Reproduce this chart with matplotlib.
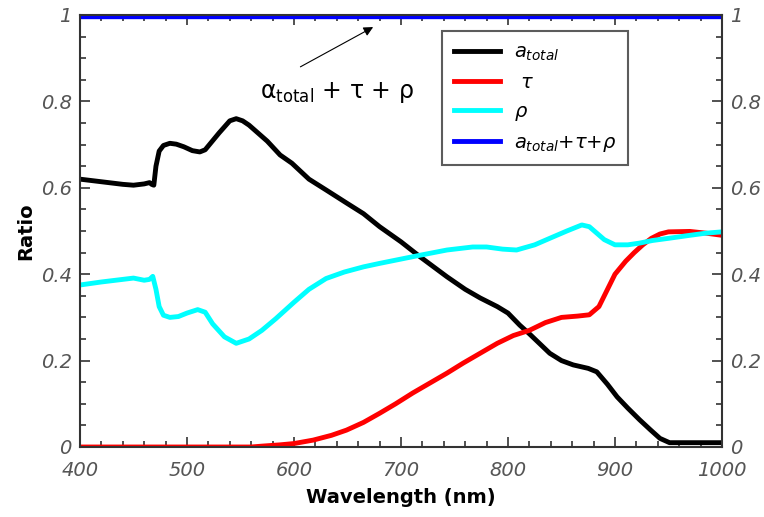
import matplotlib
matplotlib.use("Agg")
import matplotlib.pyplot as plt
from matplotlib.ticker import MultipleLocator, FuncFormatter

# absorptance (a_total), transmittance (tau), reflectance (rho) vs wavelength
wl_abs = [400, 420, 440, 450, 460, 465, 467, 469, 471, 474, 478, 484, 490, 497,
          505, 512, 517, 521, 530, 540, 546, 552, 558, 575, 587, 598, 614, 630,
          649, 665, 680, 700, 718, 743, 760, 774, 790, 800, 811, 820, 839, 850,
          861, 875, 883, 893, 902, 912, 923, 933, 942, 951, 970, 1000]
a_total = [0.620, 0.614, 0.608, 0.606, 0.609, 0.612, 0.608, 0.606, 0.650, 0.685,
           0.698, 0.703, 0.701, 0.695, 0.686, 0.683, 0.688, 0.700, 0.727, 0.755,
           0.760, 0.755, 0.745, 0.708, 0.676, 0.657, 0.620, 0.595, 0.565, 0.540,
           0.510, 0.475, 0.440, 0.394, 0.365, 0.345, 0.325, 0.310, 0.282, 0.262,
           0.217, 0.200, 0.190, 0.182, 0.174, 0.145, 0.116, 0.090, 0.063, 0.040,
           0.020, 0.010, 0.010, 0.010]

wl_tau = [400, 500, 560, 570, 587, 600, 618, 635, 649, 665, 680, 695, 711, 727,
          743, 758, 774, 790, 805, 820, 835, 850, 865, 876, 885, 893, 900, 910,
          918, 926, 934, 942, 950, 970, 985, 1000]
tau = [0.0, 0.0, 0.0, 0.002, 0.005, 0.008, 0.016, 0.027, 0.039, 0.057, 0.078,
       0.100, 0.125, 0.148, 0.171, 0.194, 0.217, 0.240, 0.258, 0.270, 0.288,
       0.300, 0.303, 0.306, 0.325, 0.365, 0.400, 0.430, 0.450, 0.468, 0.483,
       0.493, 0.498, 0.499, 0.495, 0.490]

wl_rho = [400, 420, 440, 450, 460, 465, 468, 471, 474, 478, 484, 492, 500, 510,
          517, 524, 535, 546, 558, 570, 583, 600, 614, 630, 647, 665, 680, 700,
          718, 743, 767, 780, 795, 808, 825, 839, 855, 869, 876, 883, 890, 900,
          912, 923, 935, 950, 970, 985, 1000]
rho = [0.375, 0.382, 0.388, 0.391, 0.386, 0.388, 0.395, 0.365, 0.325, 0.305,
       0.300, 0.302, 0.310, 0.318, 0.312, 0.285, 0.255, 0.240, 0.250, 0.270,
       0.297, 0.335, 0.365, 0.390, 0.405, 0.417, 0.425, 0.435, 0.444, 0.456,
       0.463, 0.463, 0.458, 0.456, 0.468, 0.483, 0.500, 0.514, 0.510, 0.495,
       0.480, 0.468, 0.468, 0.472, 0.478, 0.483, 0.490, 0.495, 0.498]

wl_sum = [400, 1000]
total_sum = [1.0, 1.0]

plt.rcParams['font.family'] = ['DejaVu Sans']
plt.rcParams['mathtext.fontset'] = 'dejavusans'

fig = plt.figure(figsize=(7.64, 5.17), dpi=100)
ax = fig.add_axes([0.1047, 0.1354, 0.8403, 0.8356])

lw = 3.5
ax.plot(wl_abs, a_total, color='black', lw=lw, label=r'$a_{total}$')
ax.plot(wl_tau, tau, color='#ff0000', lw=lw, label=r' $\tau$')
ax.plot(wl_rho, rho, color='#00ffff', lw=lw, label=r'$\rho$')
# sits on the top spine, so half of it is clipped away
ax.plot(wl_sum, total_sum, color='#0000ff', lw=6,
        label=r'$a_{total}$+$\tau$+$\rho$')

ax.set_xlim(400, 1000)
ax.set_ylim(0, 1)

ax.xaxis.set_major_locator(MultipleLocator(100))
ax.xaxis.set_minor_locator(MultipleLocator(20))
ax.yaxis.set_major_locator(MultipleLocator(0.2))
ax.yaxis.set_minor_locator(MultipleLocator(0.05))
ax.yaxis.set_major_formatter(FuncFormatter(lambda v, p: '%g' % round(v, 2)))

ax.tick_params(which='both', direction='in', top=True, right=True,
               labelright=True, color='#333333', width=1.2)
ax.tick_params(which='major', length=7, labelsize=14, labelcolor='#555555')
ax.tick_params(axis='x', which='major', pad=10)
ax.tick_params(axis='y', which='major', pad=6)
ax.tick_params(which='minor', length=4)
for t in ax.xaxis.get_major_ticks() + ax.yaxis.get_major_ticks():
    t.label1.set_fontstyle('italic')
    t.label2.set_fontstyle('italic')
    t.label2.set_color('#555555')

for s in ax.spines.values():
    s.set_color('#333333')
    s.set_linewidth(1.5)

ax.set_xlabel('Wavelength (nm)', fontsize=14, fontweight='bold', labelpad=6)
ax.set_ylabel('Ratio', fontsize=14, fontweight='bold', labelpad=4)

ax.text(640, 0.82, r'α$_{\rm total}$ + τ + ρ', fontsize=17,
        ha='center', va='center')
ax.annotate('', xy=(674, 0.972), xytext=(606, 0.88),
            arrowprops=dict(arrowstyle='-|>', color='black', lw=0.8,
                            shrinkA=0, shrinkB=0, mutation_scale=14))

leg = ax.legend(loc='upper left', bbox_to_anchor=(0.564, 0.962), fontsize=14,
                frameon=True, fancybox=False, edgecolor='#333333',
                handlelength=2.4, labelspacing=0.5, borderpad=0.6,
                handletextpad=0.7, borderaxespad=0)
leg.get_frame().set_linewidth(1.5)
leg.legend_handles[3].set_linewidth(lw)

fig.savefig('out.png', dpi=100)
